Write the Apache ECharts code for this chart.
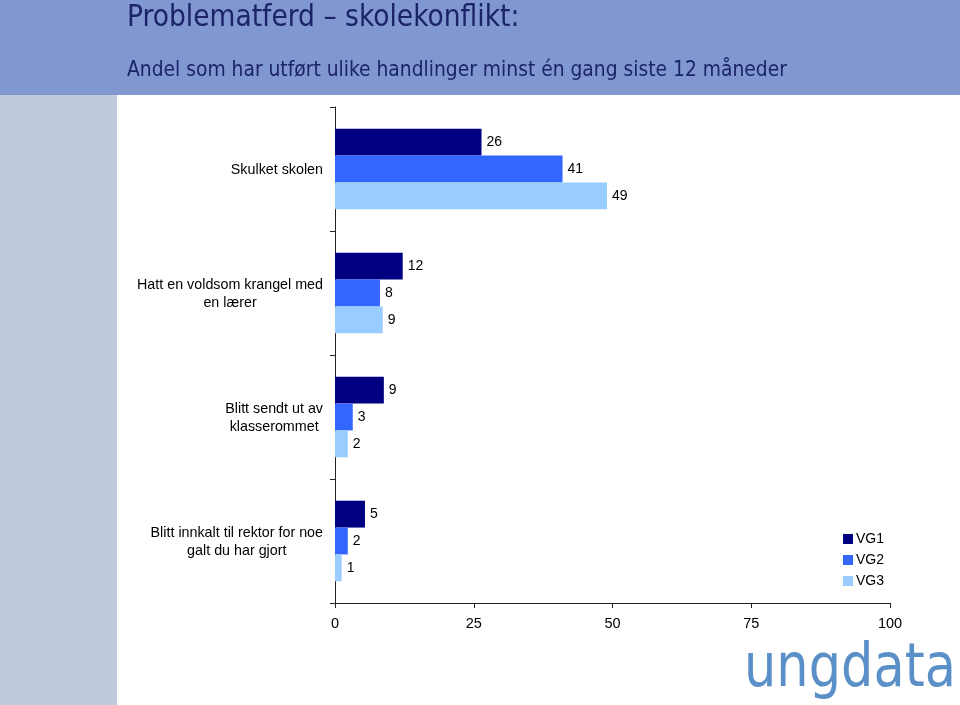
<!DOCTYPE html>
<html>
<head>
<meta charset="utf-8">
<script src="https://cdn.jsdelivr.net/npm/echarts@6/dist/echarts.min.js"></script>
<style>
html,body{margin:0;padding:0;background:#fff;}
#c{width:960px;height:705px;}
</style>
</head>
<body>
<div id="c"></div>
<script>
var categories = [
  "Skulket skolen",
  "Hatt en voldsom krangel med\nen lærer",
  "Blitt sendt ut av\nklasserommet",
  "Blitt innkalt til rektor for noe\ngalt du har gjort"
];
var seriesNames = ["VG1", "VG2", "VG3"];
var vg1 = [26.4, 12.2, 8.8, 5.4];
var vg2 = [41, 8.1, 3.2, 2.3];
var vg3 = [49, 8.6, 2.3, 1.2];
var xTicks = [0, 25, 50, 75, 100];
var colors = ["#000080", "#3366ff", "#99ccff"];

var chart = echarts.init(document.getElementById('c'), null, {renderer: 'canvas'});
var font = "Arial, 'Liberation Sans', sans-serif";
var tfont = "Tahoma, 'DejaVu Sans Condensed', 'DejaVu Sans', sans-serif";

function mkSeries(name, data, color) {
  return {
    name: name,
    type: 'bar',
    data: data,
    barGap: '0%',
    barCategoryGap: '35%',
    itemStyle: {color: color},
    label: {
      show: true,
      position: 'right',
      distance: 5,
      fontFamily: font,
      fontSize: 14,
      color: '#000',
      formatter: function (p) { return Math.round(p.value); }
    },
    emphasis: {disabled: true}
  };
}

chart.setOption({
  animation: false,
  title: [{
    text: 'Problematferd – skolekonflikt:',
    left: 122, top: -2,
    textStyle: {fontFamily: tfont, fontSize: 29.5, fontWeight: 'normal', color: '#1b2469'}
  }, {
    text: 'Andel som har utført ulike handlinger minst én gang siste 12 måneder',
    left: 122, top: 55,
    textStyle: {fontFamily: tfont, fontSize: 20.8, fontWeight: 'normal', color: '#1b2469'}
  }],
  graphic: [
    {type: 'rect', z: -10, silent: true, shape: {x: 0, y: 0, width: 960, height: 95}, style: {fill: '#8097d0'}},
    {type: 'rect', z: -10, silent: true, shape: {x: 0, y: 95, width: 117, height: 610}, style: {fill: '#bfcadd'}},
    {type: 'text', z: 10, silent: true, x: 744, y: 640, scaleX: 0.85,
      style: {text: 'ungdata', fontFamily: "'DejaVu Sans', sans-serif", fontSize: 60, fontWeight: 'normal', fill: '#5b8fc7'}}
  ],
  legend: {
    orient: 'vertical',
    left: 838, top: 527,
    itemWidth: 10, itemHeight: 10,
    itemGap: 7,
    icon: 'rect',
    textStyle: {fontFamily: font, fontSize: 14, color: '#000', padding: [0, 0, 0, -2]},
    data: seriesNames
  },
  grid: {left: 335, right: 70, top: 107, bottom: 102, containLabel: false},
  xAxis: {
    type: 'value',
    min: 0, max: 100, interval: 25,
    splitLine: {show: false},
    axisLine: {show: true, lineStyle: {color: '#222', width: 1}},
    axisTick: {show: true, length: 5, lineStyle: {color: '#222'}},
    axisLabel: {fontFamily: font, fontSize: 14.5, color: '#000', margin: 13,
      formatter: function (v) { return xTicks.indexOf(v) >= 0 ? String(v) : ''; }}
  },
  yAxis: {
    type: 'category',
    inverse: true,
    data: categories,
    axisLine: {show: true, lineStyle: {color: '#222', width: 1}},
    axisTick: {show: true, length: 5, lineStyle: {color: '#222'}},
    axisLabel: {
      margin: 12,
      fontFamily: font, fontSize: 14.3, color: '#000', lineHeight: 18,
      formatter: function (v) {
        return v.split('\n').map(function (l) { return '{c|' + l + '}'; }).join('\n');
      },
      rich: {c: {align: 'center', fontFamily: font, fontSize: 14.3, color: '#000', lineHeight: 18, padding: [2, 0, 0, 0]}}
    }
  },
  series: [
    mkSeries(seriesNames[0], vg1, colors[0]),
    mkSeries(seriesNames[1], vg2, colors[1]),
    mkSeries(seriesNames[2], vg3, colors[2])
  ]
});
</script>
</body>
</html>
